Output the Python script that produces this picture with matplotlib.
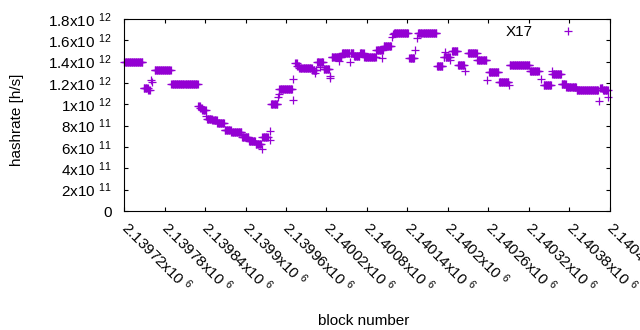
import numpy as np
import matplotlib
matplotlib.use('Agg')
import matplotlib.pyplot as plt

plt.rcParams['font.family'] = ['Liberation Sans', 'DejaVu Sans']
plt.rcParams['mathtext.fontset'] = 'custom'
plt.rcParams['mathtext.rm'] = 'Liberation Sans'
plt.rcParams['mathtext.it'] = 'Liberation Sans:italic'
plt.rcParams['mathtext.bf'] = 'Liberation Sans:bold'

# runs of blocks with the same hashrate estimate (block offsets from first_block)
first_block = 2139720
seg_first = [0, 29, 36, 40, 41, 45, 70, 110, 113, 116, 122, 123, 131, 138, 149, 159, 175, 185,
             195, 204, 205, 216, 217, 218, 228, 229, 230, 250, 251, 254, 257, 260, 279, 283,
             284, 286, 290, 291, 296, 305, 306, 308, 319, 320, 323, 335, 336, 341, 350, 356,
             374, 382, 383, 385, 397, 399, 400, 423, 431, 434, 436, 464, 474, 476, 477, 484,
             486, 495, 506, 510, 524, 538, 541, 556, 571, 572, 602, 618, 622, 634, 635, 649,
             656, 671, 704, 706, 710, 718]
seg_last = [27, 35, 38, 40, 41, 69, 109, 112, 115, 121, 122, 130, 137, 148, 158, 174, 184, 194,
            203, 204, 213, 216, 217, 227, 228, 229, 249, 250, 251, 256, 259, 278, 282, 283,
            285, 289, 290, 295, 304, 305, 306, 318, 319, 322, 334, 335, 340, 349, 355, 373,
            381, 382, 384, 396, 397, 399, 421, 430, 431, 434, 463, 472, 475, 476, 483, 484,
            494, 504, 506, 523, 537, 538, 555, 570, 571, 601, 615, 618, 633, 634, 648, 655,
            670, 703, 704, 709, 717, 718]
seg_rate = [1.394, 1.153, 1.134, 1.225, 1.21, 1.319, 1.188, 0.984, 0.961, 0.947, 0.891, 0.862,
            0.853, 0.822, 0.759, 0.745, 0.697, 0.652, 0.625, 0.581, 0.697, 0.666, 0.75, 1.003,
            1.069, 1.097, 1.148, 1.04, 1.235, 1.39, 1.36, 1.345, 1.32, 1.29, 1.32, 1.397, 1.35,
            1.397, 1.328, 1.27, 1.25, 1.444, 1.41, 1.444, 1.477, 1.40, 1.477, 1.453, 1.481,
            1.444, 1.505, 1.434, 1.505, 1.55, 1.628, 1.657, 1.666, 1.439, 1.514, 1.619, 1.666,
            1.364, 1.447, 1.49, 1.447, 1.416, 1.498, 1.373, 1.317, 1.478, 1.42, 1.228, 1.303,
            1.212, 1.18, 1.367, 1.3125, 1.2375, 1.181, 1.317, 1.281, 1.195, 1.165, 1.136,
            1.027, 1.153, 1.134, 1.069]  # x 1e12 h/s

xticks = [2139720, 2139780, 2139840, 2139900, 2139960, 2140020, 2140080,
          2140140, 2140200, 2140260, 2140320, 2140380, 2140440]
xtick_labels = ['2.13972', '2.13978', '2.13984', '2.1399', '2.13996', '2.14002', '2.14008',
                '2.14014', '2.1402', '2.14026', '2.14032', '2.14038', '2.14044']
yticks = [0, 2e11, 4e11, 6e11, 8e11, 1e12, 1.2e12, 1.4e12, 1.6e12, 1.8e12]
ytick_labels = ['0', '2x10 $^{11}$', '4x10 $^{11}$', '6x10 $^{11}$', '8x10 $^{11}$',
                '1x10 $^{12}$', '1.2x10 $^{12}$', '1.4x10 $^{12}$', '1.6x10 $^{12}$',
                '1.8x10 $^{12}$']

blocks = np.concatenate([np.arange(a, b + 1) for a, b in zip(seg_first, seg_last)]) + first_block
rates = np.concatenate([np.full(b - a + 1, r) for a, b, r in zip(seg_first, seg_last, seg_rate)]) * 1e12

fig = plt.figure(figsize=(6.4, 3.3), dpi=100)
ax = fig.add_axes([0.194, 0.3606, 0.7585, 0.5818])

ax.plot(blocks, rates, '+', color='#9400d3', ms=5.6, mew=0.9, label='X17', clip_on=False)

ax.set_xlim(2139720, 2140440)
ax.set_ylim(0, 1.8e12)
# last label runs off the right edge, as in the original
ax.set_xticks(xticks, [s + 'x10 $^{6}$' for s in xtick_labels], rotation=-45,
              ha='left', va='center', rotation_mode='anchor')
ax.set_yticks(yticks, ytick_labels)
ax.tick_params(direction='in', top=True, right=True, length=3.2, width=0.8,
               labelsize=11, colors='black')
ax.tick_params(axis='y', pad=9)
ax.tick_params(axis='x', pad=10)
for s in ax.spines.values():
    s.set_linewidth(0.8)

ax.set_ylabel('hashrate [h/s]', fontsize=11)
ax.yaxis.set_label_coords(-0.206, 0.474)
ax.set_xlabel('block number', fontsize=11)
ax.xaxis.set_label_coords(0.494, -0.534)

ax.legend(loc='center right', bbox_to_anchor=(0.945, 0.932), markerfirst=False,
          frameon=False, fontsize=11, handlelength=2.0, handletextpad=1.3,
          borderpad=0, borderaxespad=0)

fig.savefig('out.png', dpi=100)
